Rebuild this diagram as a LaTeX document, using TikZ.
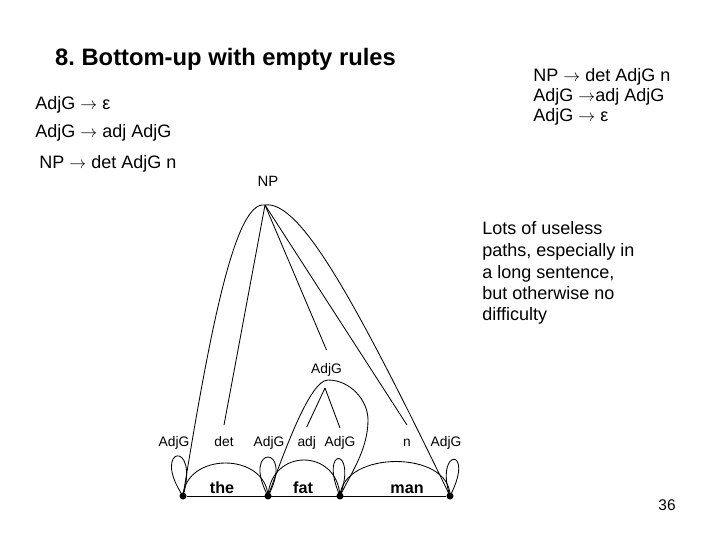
\documentclass[tikz,border=0pt]{standalone}
\usepackage{fontspec}
\setmainfont{Liberation Sans}
\usetikzlibrary{positioning}

\newcommand{\yields}{$\rightarrow$}

\tikzset{
    rule/.style={font=\fontsize{12.8}{15}\selectfont, anchor=base west, inner sep=0pt},
    cat/.style={font=\fontsize{9.8}{11}\selectfont, anchor=base, inner sep=0pt},
    word/.style={font=\fontsize{11.5}{13}\selectfont\bfseries, anchor=base, inner sep=0pt},
    dotnode/.style={circle, fill=black, inner sep=0pt, minimum size=5pt},
}

\begin{document}
\begin{tikzpicture}[x=0.025cm, y=-0.025cm, line width=0.6pt]
    \useasboundingbox (0,0) rectangle (720,540);

    % Title and grammar
    \node[font=\fontsize{16.9}{20}\selectfont\bfseries, anchor=base, inner sep=0pt] (title) at (225.5,65.5) {8.\ Bottom-up with empty rules};
    \node[rule] (lrule1) at (35,109.5) {AdjG \yields{} ε};
    \node[rule] (lrule2) at (35,137.5) {AdjG \yields{} adj AdjG};
    \node[rule] (lrule3) at (39,168.5) {NP \yields{} det AdjG n};

    \node[rule] (rrule1) at (533,81.5) {NP \yields{} det AdjG n};
    \node[rule] (rrule2) at (533,101.5) {AdjG \yields{}adj AdjG};
    \node[rule] (rrule3) at (533,121.5) {AdjG \yields{} ε};

    % Comment on the right
    \foreach \y/\t [count=\i] in {234.5/Lots of useless, 256.5/{paths, especially in}, 278.5/{a long sentence,}, 299.5/but otherwise no, 320.5/difficulty} {
        \node[rule] (note\i) at (482,\y) {\t};
    }

    % Positions in the input
    \foreach \i/\x in {1/183, 2/268, 3/340, 4/450} {
        \node[dotnode] (d\i) at (\x,496) {};
    }
    \draw (d1) -- (d4);

    % Words
    \node[word] (the) at (222,493) {the};
    \node[word] (fat) at (303,493) {fat};
    \node[word] (man) at (407,493) {man};

    % Category labels
    \node[cat] (adjg1) at (174,446.7) {AdjG};
    \node[cat] (det) at (224,446.7) {det};
    \node[cat] (adjg2) at (269,446.7) {AdjG};
    \node[cat] (adj) at (306.7,446.7) {adj};
    \node[cat] (adjg3) at (340,446.7) {AdjG};
    \node[cat] (n) at (407,446.7) {n};
    \node[cat] (adjg4) at (446,446.7) {AdjG};
    \node[cat] (adjgtop) at (326.5,373.3) {AdjG};
    \node[font=\fontsize{10.6}{12}\selectfont, inner sep=0pt] (np) at (268,181) {NP};

    \coordinate (nptop) at (265,205);
    \coordinate (adjgfork) at (325,388);

    % Arcs over the words
    \draw (d1.center) .. controls (186,452) and (265,452) .. (d2.center);
    \draw (d2.center) .. controls (271,448) and (337,448) .. (d3.center);
    \draw (d3.center) .. controls (343,450) and (450,450) .. (d4.center);

    % Empty AdjG at each position
    \draw (d1.center) .. controls (150,447) and (200,438) .. (d1.center);
    \draw (d2.center) .. controls (240,444) and (296,444) .. (d2.center);
    \draw (d3.center) .. controls (318,446) and (358,446) .. (d3.center);
    \draw (d4.center) .. controls (434,448) and (476,446) .. (d4.center);

    % AdjG -> adj AdjG
    \draw (d2.center) .. controls (285,450) and (310,380) .. (328,380)
        .. controls (350,380) and (368,400) .. (368,420)
        .. controls (368,450) and (350,475) .. (d3.center);
    \draw (adjgfork) -- ([yshift=14pt]adj.base);
    \draw (adjgfork) -- ([yshift=13.3pt]adjg3.base);

    % NP -> det AdjG n
    \draw (d1.center) .. controls (210,330) and (235,200) .. (nptop);
    \draw (nptop) .. controls (300,200) and (355,300) .. (d4.center);
    \draw (nptop) -- ([yshift=15.4pt]det.base);
    \draw (nptop) -- ([yshift=16.6pt]adjgtop.base);
    \draw (nptop) -- ([yshift=15.4pt]n.base);

    % Page number
    \node[font=\fontsize{11}{13}\selectfont, anchor=base, inner sep=0pt] (page) at (667,510) {36};
\end{tikzpicture}
\end{document}
